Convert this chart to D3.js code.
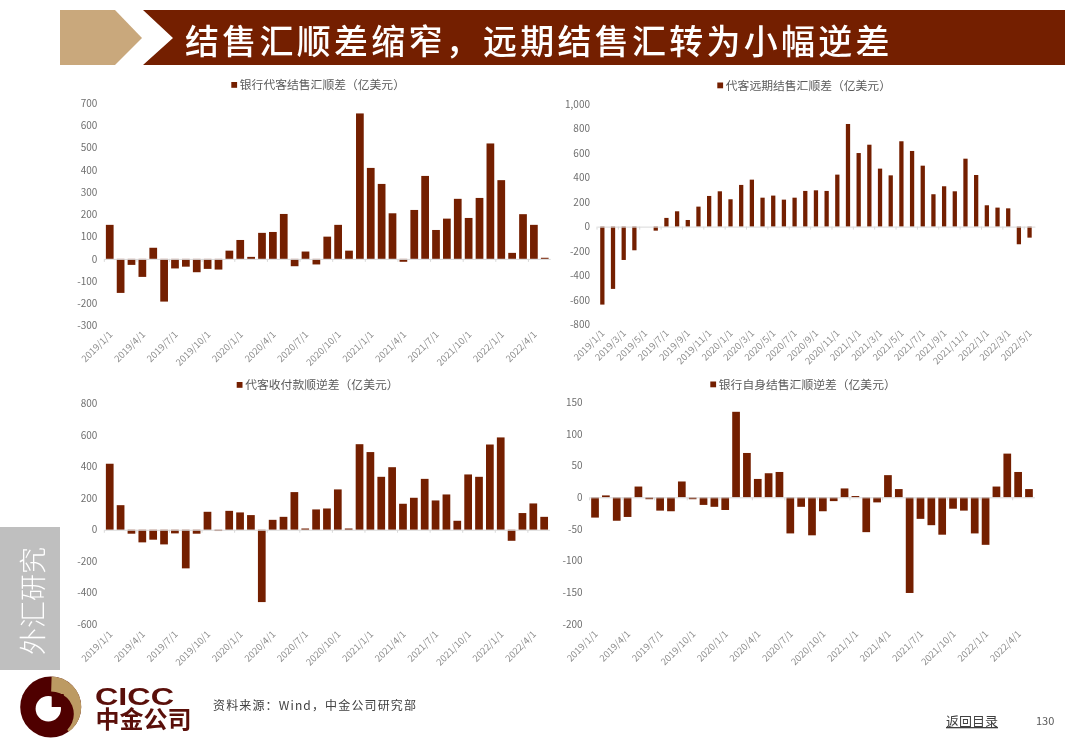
<!DOCTYPE html>
<html>
<head>
<meta charset="utf-8">
<style>
  html, body { margin: 0; padding: 0; background: #fff; }
  svg { display: block; filter: blur(0.4px); }
  text { font-family: "Noto Sans CJK SC", "Noto Sans", sans-serif; }
</style>
<script src="https://cdn.jsdelivr.net/npm/d3@7"></script>
</head>
<body>
<div id="page"></div>
<script>
var months = [
  "2019/1/1", "2019/2/1", "2019/3/1", "2019/4/1", "2019/5/1", "2019/6/1", "2019/7/1", "2019/8/1", "2019/9/1", "2019/10/1", "2019/11/1", "2019/12/1",
  "2020/1/1", "2020/2/1", "2020/3/1", "2020/4/1", "2020/5/1", "2020/6/1", "2020/7/1", "2020/8/1", "2020/9/1", "2020/10/1", "2020/11/1", "2020/12/1",
  "2021/1/1", "2021/2/1", "2021/3/1", "2021/4/1", "2021/5/1", "2021/6/1", "2021/7/1", "2021/8/1", "2021/9/1", "2021/10/1", "2021/11/1", "2021/12/1",
  "2022/1/1", "2022/2/1", "2022/3/1", "2022/4/1", "2022/5/1"
];

var clientSurplus = [153, -153, -27, -81, 50, -192, -43, -35, -60, -45, -48, 37, 85, 9, 117, 121, 202, -33, 33, -25, 100, 153, 37, 654, 409, 337, 205, -13, 220, 373, 130, 181, 270, 184, 274, 519, 354, 27, 201, 153, 5];
var forwardSurplus = [-636, -508, -272, -193, 0, -33, 71, 125, 54, 163, 250, 288, 223, 340, 383, 236, 253, 220, 236, 291, 296, 291, 424, 837, 600, 668, 473, 418, 696, 617, 497, 264, 329, 288, 554, 421, 174, 155, 149, -144, -90];
var paymentSurplus = [419, 156, -25, -80, -63, -93, -23, -245, -25, 114, -8, 120, 110, 93, -459, 63, 82, 239, 8, 129, 135, 256, 8, 543, 493, 336, 397, 165, 203, 323, 186, 224, 57, 351, 336, 541, 586, -70, 106, 167, 82];
var ownSurplus = [-32, 3, -37, -31, 17, -3, -21, -22, 25, -3, -12, -15, -20, 135, 70, 29, 38, 40, -57, -15, -60, -22, -6, 14, 2, -55, -8, 35, 13, -151, -34, -44, -59, -18, -21, -57, -75, 17, 69, 40, 13];

var clientTicks = [700, 600, 500, 400, 300, 200, 100, 0, -100, -200, -300];
var forwardTicks = [1000, 800, 600, 400, 200, 0, -200, -400, -600, -800];
var paymentTicks = [800, 600, 400, 200, 0, -200, -400, -600];
var ownTicks = [150, 100, 50, 0, -50, -100, -150, -200];

var everyThree = months.filter(function (m, i) { return i % 3 === 0 && i < 40; });
var everyTwo = months.filter(function (m, i) { return i % 2 === 0; });

var BAR_RED = "#741f00";
var TAN = "#c9a87c";

var svg = d3.select("#page").append("svg").attr("width", 1080).attr("height", 755);

function drawHeader() {
  svg.append("polygon")
    .attr("points", "60,10 115,10 142,38 115,65 60,65")
    .attr("fill", TAN);
  svg.append("polygon")
    .attr("points", "143,10 1065,10 1065,65 143,65 173,38")
    .attr("fill", BAR_RED);
  svg.append("text")
    .attr("x", 185)
    .attr("y", 54)
    .attr("fill", "#fff")
    .style("font-size", "34px")
    .style("font-weight", "500")
    .style("letter-spacing", "3.25px")
    .text("结售汇顺差缩窄，远期结售汇转为小幅逆差");
}

function drawBarPanel(opts) {
  var x = d3.scaleBand()
    .domain(months)
    .range([opts.left, opts.right])
    .paddingInner(opts.padding)
    .paddingOuter(opts.padding / 2);
  var y = d3.scaleLinear()
    .domain([opts.ticks[opts.ticks.length - 1], opts.ticks[0]])
    .range([opts.bottom, opts.top]);
  var fmt = d3.format(",");

  var g = svg.append("g");

  g.selectAll("rect.bar")
    .data(opts.values)
    .enter()
    .append("rect")
    .attr("class", "bar")
    .attr("x", function (d, i) { return x(months[i]); })
    .attr("y", function (d) { return y(Math.max(d, 0)); })
    .attr("width", x.bandwidth())
    .attr("height", function (d) { return Math.abs(y(d) - y(0)); })
    .attr("fill", BAR_RED);

  // zero line with the faint category ticks
  var zeroAxis = g.append("g")
    .attr("transform", "translate(0," + y(0) + ")")
    .call(d3.axisBottom(x).tickValues(opts.labels).tickSize(3).tickSizeOuter(0).tickFormat(""));
  zeroAxis.select(".domain").attr("stroke", "#d9d9d9");
  zeroAxis.selectAll("line")
    .attr("stroke", "#d9d9d9")
    .attr("x1", -x.step() / 2)
    .attr("x2", -x.step() / 2);

  var yAxis = g.append("g")
    .attr("transform", "translate(" + opts.left + ",0)")
    .call(d3.axisLeft(y)
      .tickValues(opts.ticks)
      .tickSize(0)
      .tickPadding(7)
      .tickFormat(function (d) { return fmt(d).replace("−", "-"); }));
  yAxis.select(".domain").remove();
  yAxis.selectAll("text")
    .attr("fill", "#6f6f6f")
    .style("font-size", "10px");

  var xAxis = g.append("g")
    .attr("transform", "translate(0," + opts.bottom + ")")
    .call(d3.axisBottom(x).tickValues(opts.labels).tickSize(0).tickPadding(0));
  xAxis.select(".domain").remove();
  xAxis.selectAll("text")
    .attr("fill", "#8c8c8c")
    .attr("text-anchor", "end")
    .attr("dy", 0)
    .attr("transform", "translate(" + opts.labelDx + "," + opts.labelDy + ") rotate(-45)")
    .style("font-size", "9.5px");

  // one-entry legend above the panel
  g.append("rect")
    .attr("x", opts.legendX)
    .attr("y", opts.legendY - 3)
    .attr("width", 5.8)
    .attr("height", 5.8)
    .attr("fill", BAR_RED);
  g.append("text")
    .attr("x", opts.legendX + 8.5)
    .attr("y", opts.legendY + 4)
    .attr("fill", "#595959")
    .style("font-size", "11.8px")
    .text(opts.title);
}

function drawSideTab() {
  svg.append("rect")
    .attr("x", 0)
    .attr("y", 527)
    .attr("width", 60)
    .attr("height", 143)
    .attr("fill", "#bfbfbf");
  svg.append("text")
    .attr("transform", "translate(43,655) rotate(-90)")
    .attr("fill", "#fff")
    .style("font-size", "27px")
    .style("font-weight", "300")
    .text("外汇研究");
}

function drawFooter() {
  var maroon = "#4f0000";
  var logo = svg.append("g").attr("transform", "translate(50.7,707)");
  logo.append("circle").attr("r", 30.5).attr("fill", maroon);
  logo.append("path")
    .attr("d", d3.arc().innerRadius(0).outerRadius(30.5).startAngle(0.03).endAngle(Math.PI * 0.8)())
    .attr("fill", "#bc9a63");
  logo.append("circle").attr("cx", 0.6).attr("cy", 7).attr("r", 22.5).attr("fill", maroon);
  logo.append("circle").attr("cx", -2.4).attr("cy", 1.7).attr("r", 12.7).attr("fill", "#fff");
  // the dark notch in the white ring
  logo.append("rect").attr("x", 1).attr("y", -13).attr("width", 12).attr("height", 13).attr("fill", maroon);

  svg.append("text")
    .attr("x", 95)
    .attr("y", 705)
    .attr("fill", "#5a0f0a")
    .attr("textLength", 79)
    .attr("lengthAdjust", "spacingAndGlyphs")
    .style("font-family", "'Liberation Sans', sans-serif")
    .style("font-size", "24px")
    .style("font-weight", "700")
    .text("CICC");
  svg.append("text")
    .attr("x", 95.5)
    .attr("y", 728)
    .attr("fill", "#5a0f0a")
    .style("font-size", "24px")
    .style("font-weight", "700")
    .text("中金公司");

  svg.append("text")
    .attr("x", 213)
    .attr("y", 710)
    .attr("fill", "#404040")
    .style("font-size", "12px")
    .style("letter-spacing", "1.15px")
    .text("资料来源：Wind，中金公司研究部");

  svg.append("text")
    .attr("x", 946)
    .attr("y", 726)
    .attr("fill", "#404040")
    .style("font-size", "13px")
    .style("text-decoration", "underline")
    .text("返回目录");
  svg.append("text")
    .attr("x", 1036)
    .attr("y", 725)
    .attr("fill", "#595959")
    .style("font-size", "11px")
    .text("130");
}

drawHeader();

drawBarPanel({
  title: "银行代客结售汇顺差（亿美元）", values: clientSurplus, ticks: clientTicks, labels: everyThree,
  left: 104.3, right: 550.2, top: 103.2, bottom: 325.6, padding: 0.29, labelDx: 3.5, labelDy: 9.5, legendX: 231.3, legendY: 85
});
drawBarPanel({
  title: "代客远期结售汇顺差（亿美元）", values: forwardSurplus, ticks: forwardTicks, labels: everyTwo,
  left: 597, right: 1034.9, top: 104, bottom: 324.7, padding: 0.6, labelDx: 3, labelDy: 9, legendX: 717.3, legendY: 85.5
});
drawBarPanel({
  title: "代客收付款顺逆差（亿美元）", values: paymentSurplus, ticks: paymentTicks, labels: everyThree,
  left: 104.3, right: 549.6, top: 403.7, bottom: 624.3, padding: 0.29, labelDx: 3.5, labelDy: 10.5, legendX: 236.7, legendY: 385
});
drawBarPanel({
  title: "银行自身结售汇顺逆差（亿美元）", values: ownSurplus, ticks: ownTicks, labels: everyThree,
  left: 589.6, right: 1034.4, top: 402.3, bottom: 624, padding: 0.29, labelDx: 3.5, labelDy: 10.5, legendX: 710.3, legendY: 384.5
});

drawSideTab();
drawFooter();
</script>
</body>
</html>
